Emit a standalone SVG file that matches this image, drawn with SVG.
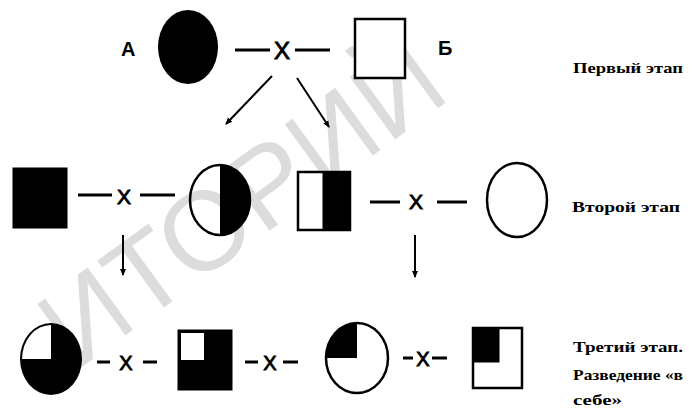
<svg xmlns="http://www.w3.org/2000/svg" width="700" height="410" viewBox="0 0 700 410">
<defs>
<style>
.wm{font-family:"Liberation Sans",Arial,sans-serif;font-size:112px;fill:#dcdcdc}
.x{font-family:"Liberation Sans",Arial,sans-serif;fill:#000;stroke:#000;stroke-width:0.9;text-anchor:middle}
.lab{font-family:"Liberation Sans",Arial,sans-serif;font-weight:bold;font-size:20px;fill:#000}
.cap{font-family:"Liberation Serif","Times New Roman",serif;font-weight:bold;font-size:14px;fill:#000}
.ln{stroke:#000;stroke-width:3;fill:none}
.ar{stroke:#000;stroke-width:2;fill:none;marker-end:url(#ah)}
.ol{stroke:#000;stroke-width:2.5;fill:#fff}
.bk{fill:#000;stroke:#000;stroke-width:1}
</style>
<marker id="ah" markerWidth="8" markerHeight="8" refX="6" refY="4" orient="auto" markerUnits="userSpaceOnUse">
<path d="M0,1 L7,4 L0,7 Z" fill="#000"/>
</marker>
</defs>
<rect width="700" height="410" fill="#fff"/>
<g id="watermark" transform="translate(208,226) rotate(-36)">
<text class="wm" x="-193" y="40">ИТОРИЙ</text>
</g>
<g id="connectors">
<line class="ln" x1="235" y1="50" x2="270" y2="50"/>
<line class="ln" x1="295" y1="50" x2="330" y2="50"/>
<text class="x" x="282" y="59" font-size="24">X</text>
<line class="ar" x1="272" y1="76" x2="226" y2="124"/>
<line class="ar" x1="297" y1="78" x2="329" y2="127"/>
<line class="ln" x1="78" y1="195" x2="112" y2="195"/>
<line class="ln" x1="140" y1="195" x2="175" y2="195"/>
<text class="x" x="124" y="204" font-size="21">X</text>
<line class="ln" x1="370" y1="202" x2="400" y2="202"/>
<line class="ln" x1="437" y1="202" x2="467" y2="202"/>
<text class="x" x="416" y="209" font-size="21">X</text>
<line class="ar" x1="123" y1="235" x2="123" y2="275"/>
<line class="ar" x1="415" y1="235" x2="415" y2="277"/>
<line class="ln" x1="97" y1="362" x2="110" y2="362"/>
<line class="ln" x1="143" y1="362" x2="157" y2="362"/>
<text class="x" x="126" y="370" font-size="20">X</text>
<line class="ln" x1="245" y1="362" x2="258" y2="362"/>
<line class="ln" x1="283" y1="362" x2="298" y2="362"/>
<text class="x" x="270" y="370" font-size="20">X</text>
<line class="ln" x1="403" y1="358" x2="413" y2="358"/>
<line class="ln" x1="432" y1="358" x2="447" y2="358"/>
<text class="x" x="423" y="366" font-size="20">X</text>
</g>
<g id="nodeA">
<text class="lab" x="121" y="56">А</text>
<ellipse cx="188" cy="47" rx="30" ry="37" fill="#000"/>
</g>
<g id="nodeB">
<rect class="ol" x="355" y="19" width="50" height="59"/>
<text class="lab" x="438" y="55">Б</text>
</g>
<g id="n21">
<rect class="bk" x="13" y="168" width="54" height="60"/>
</g>
<g id="n22">
<path d="M220,165 A30,35 0 0,1 220,235 Z" fill="#000"/>
<ellipse cx="220" cy="200" rx="30" ry="35" fill="none" stroke="#000" stroke-width="2.5"/>
</g>
<g id="n23">
<rect class="ol" x="298" y="172" width="52" height="58"/>
<rect class="bk" x="323" y="172" width="27" height="58"/>
</g>
<g id="n24">
<ellipse class="ol" cx="517" cy="200" rx="30" ry="37"/>
</g>
<g id="n31">
<ellipse cx="51" cy="359" rx="31" ry="36" fill="#000"/>
<path d="M51,359 L22,359 A29,34 0 0,1 51,325 Z" fill="#fff"/>
</g>
<g id="n32">
<rect class="bk" x="178" y="330" width="54" height="60"/>
<rect x="181" y="333" width="23" height="27" fill="#fff"/>
</g>
<g id="n33">
<ellipse class="ol" cx="357" cy="358" rx="31" ry="35"/>
<path d="M357,358 L326,358 A31,35 0 0,1 357,323 Z" fill="#000"/>
</g>
<g id="n34">
<rect class="ol" x="473" y="328" width="49" height="60"/>
<rect class="bk" x="473" y="328" width="26" height="34"/>
</g>
<g id="captions">
<text class="cap" x="573" y="73" textLength="110" lengthAdjust="spacingAndGlyphs">Первый этап</text>
<text class="cap" x="572" y="212" textLength="108" lengthAdjust="spacingAndGlyphs">Второй этап</text>
<text class="cap" x="573" y="352" textLength="110" lengthAdjust="spacingAndGlyphs">Третий этап.</text>
<text class="cap" x="573" y="380" textLength="110" lengthAdjust="spacingAndGlyphs">Разведение «в</text>
<text class="cap" x="573" y="405" textLength="49" lengthAdjust="spacingAndGlyphs">себе»</text>
</g>
</svg>
